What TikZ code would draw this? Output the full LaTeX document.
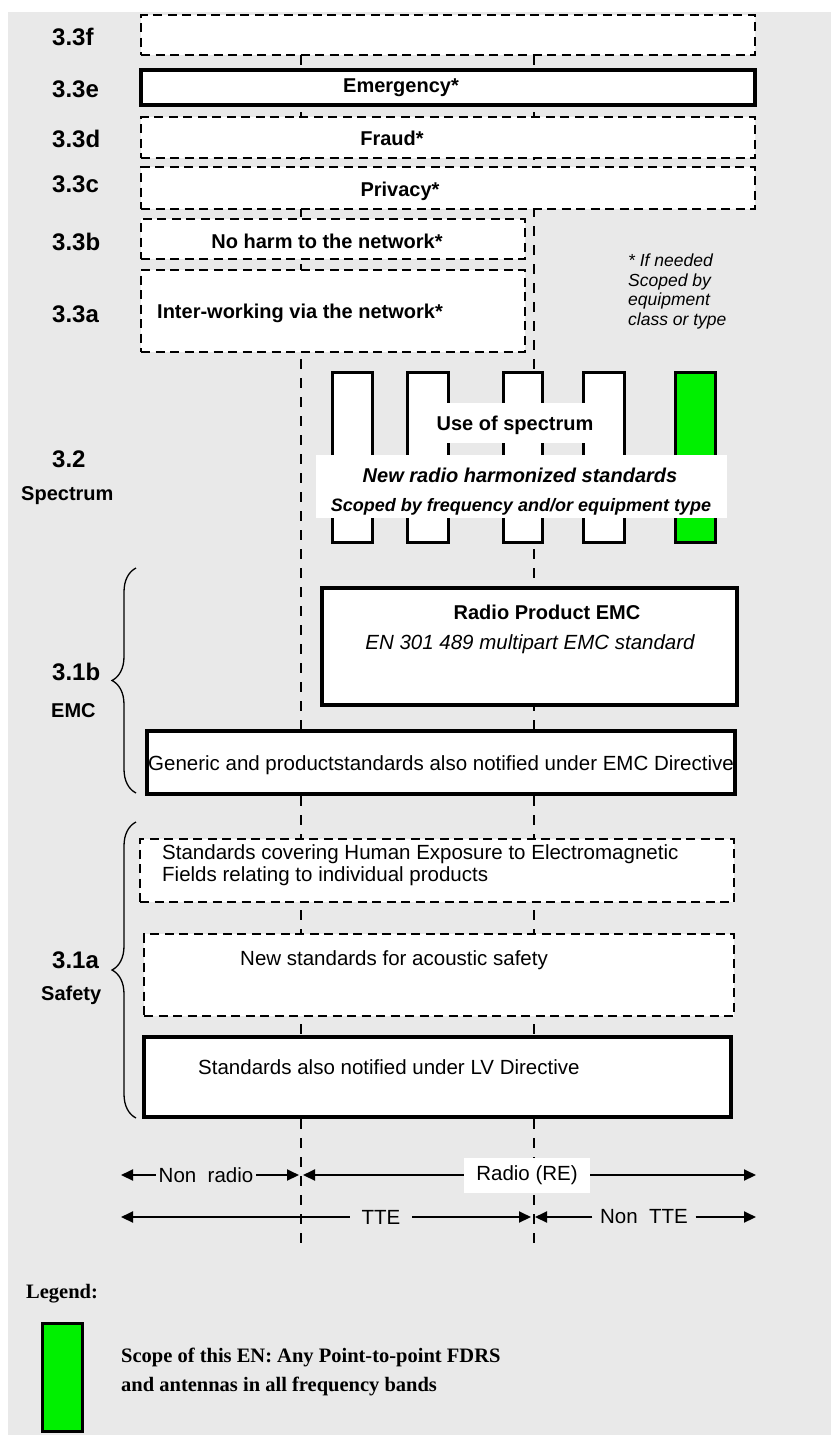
\documentclass[tikz,border=0pt]{standalone}
\usepackage{fontspec}
\setmainfont{Liberation Sans}
\newfontfamily\legendfont{Liberation Serif}
\usetikzlibrary{arrows.meta,decorations.pathreplacing}
\definecolor{panel}{HTML}{E9E9E9}
\definecolor{scopegreen}{HTML}{00F000}

\begin{document}
\begin{tikzpicture}[x=1pt,y=-1pt,
    dash_box/.style={draw,fill=white,line width=2.9pt,dash pattern=on 9pt off 5.5pt,inner sep=0pt},
    solid_box/.style={draw,fill=white,line width=3.2pt,inner sep=0pt},
    band_box/.style={draw,fill=white,line width=3pt,minimum height=170pt,inner sep=0pt},
    guide_line/.style={line width=2.6pt,dash pattern=on 10pt off 9pt},
    brace_line/.style={line width=1.3pt,decorate,decoration={brace,amplitude=24pt}},
    sec_label/.style={anchor=base west,inner sep=0pt,font=\fontsize{24}{28}\selectfont\bfseries},
    sub_label/.style={anchor=base west,inner sep=0pt,font=\fontsize{20}{24}\selectfont\bfseries},
    box_text/.style={anchor=base,inner sep=0pt,font=\fontsize{20}{24}\selectfont\bfseries},
    plain_text/.style={inner sep=0pt,font=\fontsize{20.5}{22}\selectfont},
    dim_arrow/.style={line width=2pt,-{Triangle[length=12pt,width=11pt]}},
    dim_text/.style={fill=panel,inner ysep=1pt,font=\fontsize{20.5}{24}\selectfont}]

    \useasboundingbox (0,0) rectangle (831,1435);
    \fill[white] (0,0) rectangle (831,1435);
    \fill[panel] (8,12) rectangle (831,1435);

    % TTE / radio borders
    \coordinate (g1_top) at (301,55);
    \coordinate (g1_bot) at (301,1250);
    \coordinate (g2_top) at (534,55);
    \coordinate (g2_bot) at (534,1250);
    \draw[guide_line] (g1_top) -- (g1_bot);
    \draw[guide_line] (g2_top) -- (g2_bot);

    % 3.3
    \node[dash_box,minimum width=614pt,minimum height=40pt] (s33f) at (448,35) {};
    \node[solid_box,minimum width=614pt,minimum height=35pt] (s33e) at (448,87.5) {};
    \node[dash_box,minimum width=614pt,minimum height=41pt] (s33d) at (448,137.5) {};
    \node[dash_box,minimum width=614pt,minimum height=42pt] (s33c) at (448,188) {};
    \node[dash_box,minimum width=384pt,minimum height=40pt] (s33b) at (333,239) {};
    \node[dash_box,minimum width=384pt,minimum height=82pt] (s33a) at (333,311) {};
    \node[box_text] (emerg) at (401,92) {Emergency*};
    \node[box_text] (fraud) at (392,145) {Fraud*};
    \node[box_text] (privacy) at (400,196) {Privacy*};
    \node[box_text] (noharm) at (327,248) {No harm to the network*};
    \node[box_text] (interwork) at (300,318) {Inter-working via the network*};
    \node[anchor=north west,inner sep=0pt,align=left,font=\fontsize{17.5}{19.5}\selectfont\itshape] (note) at (628,254) {* If needed\\Scoped by\\equipment\\class or type};

    \node[sec_label] (l33f) at (52,45) {3.3f};
    \node[sec_label] (l33e) at (52,97) {3.3e};
    \node[sec_label] (l33d) at (52,147) {3.3d};
    \node[sec_label] (l33c) at (52,192) {3.3c};
    \node[sec_label] (l33b) at (52,250) {3.3b};
    \node[sec_label] (l33a) at (52,322) {3.3a};

    % 3.2 spectrum
    \node[band_box,minimum width=40pt] (bar1) at (352,457) {};
    \node[band_box,minimum width=41pt] (bar2) at (427.5,457) {};
    \node[band_box,minimum width=39pt] (bar3) at (522.5,457) {};
    \node[band_box,minimum width=41pt] (bar4) at (603.5,457) {};
    \node[band_box,fill=scopegreen,minimum width=40pt] (bar5) at (695,457) {};
    \node[fill=white,minimum width=210pt,minimum height=40pt,inner sep=0pt] (usebox) at (515,423) {};
    \node[box_text] (usetxt) at (515,430) {Use of spectrum};
    \node[fill=white,minimum width=411pt,minimum height=63pt,inner sep=0pt] (newbox) at (521.5,486.5) {};
    \node[box_text,font=\fontsize{20}{24}\selectfont\bfseries\itshape] (newtxt) at (520,482) {New radio harmonized standards};
    \node[box_text,font=\fontsize{18}{20}\selectfont\bfseries\itshape] (scopetxt) at (521,511) {Scoped by frequency and/or equipment type};
    \node[sec_label] (l32) at (52,467) {3.2};
    \node[sub_label] (lspec) at (21,500) {Spectrum};

    % 3.1b EMC
    \coordinate (b1_top) at (136,568);
    \coordinate (b1_bot) at (136,793);
    \draw[brace_line] (b1_bot) -- (b1_top);
    \node[solid_box,minimum width=415pt,minimum height=117pt] (rpemc) at (529.5,646.5) {};
    \node[box_text] (rpemctxt) at (547,619) {Radio Product EMC};
    \node[plain_text,anchor=base,font=\fontsize{20.5}{22}\selectfont\itshape] (en301) at (530,649) {EN 301 489 multipart EMC standard};
    \node[solid_box,minimum width=588pt,minimum height=63pt] (generic) at (441,762.5) {};
    \node[plain_text,anchor=base] (generictxt) at (441,770) {Generic and productstandards also notified under EMC Directive};
    \node[sec_label] (l31b) at (52,680) {3.1b};
    \node[sub_label] (lemc) at (51,717) {EMC};

    % 3.1a safety
    \coordinate (b2_top) at (136,822);
    \coordinate (b2_bot) at (136,1118);
    \draw[brace_line] (b2_bot) -- (b2_top);
    \node[dash_box,minimum width=594pt,minimum height=63pt] (humexp) at (437,870.5) {};
    \node[plain_text,anchor=north west,align=left] (humtxt) at (162,844) {Standards covering Human Exposure to Electromagnetic\\Fields relating to individual products};
    \node[dash_box,minimum width=590pt,minimum height=82pt] (acoustic) at (439,975) {};
    \node[plain_text,anchor=base west] (acoustictxt) at (240,965) {New standards for acoustic safety};
    \node[solid_box,minimum width=587pt,minimum height=80pt] (lvd) at (437.5,1077) {};
    \node[plain_text,anchor=base west] (lvtxt) at (198,1074) {Standards also notified under LV Directive};
    \node[sec_label] (l31a) at (52,968) {3.1a};
    \node[sub_label] (lsafety) at (41,1000) {Safety};

    % scope arrows
    \node[dim_text,inner xsep=3pt] (nonradio) at (206,1175) {Non\ \ radio};
    \coordinate (nr_w) at (121,1175);
    \coordinate (nr_e) at (299,1175);
    \draw[dim_arrow] (nonradio) -- (nr_w);
    \draw[dim_arrow] (nonradio) -- (nr_e);
    \node[dim_text,fill=white,minimum width=126pt,minimum height=35pt] (radio) at (527,1175) {Radio (RE)};
    \coordinate (re_w) at (303,1175);
    \coordinate (re_e) at (756,1175);
    \draw[dim_arrow] (radio) -- (re_w);
    \draw[dim_arrow] (radio) -- (re_e);
    \node[dim_text,inner xsep=11.5pt] (tte) at (381,1217) {TTE};
    \coordinate (tte_w) at (121,1217);
    \coordinate (tte_e) at (531,1217);
    \draw[dim_arrow] (tte) -- (tte_w);
    \draw[dim_arrow] (tte) -- (tte_e);
    \node[dim_text,inner xsep=7.5pt] (nontte) at (644,1217) {Non\ \ TTE};
    \coordinate (ntte_w) at (535,1217);
    \coordinate (ntte_e) at (756,1217);
    \draw[dim_arrow] (nontte) -- (ntte_w);
    \draw[dim_arrow] (nontte) -- (ntte_e);

    % legend
    \node[anchor=base west,inner sep=0pt,font=\legendfont\fontsize{20.5}{24}\selectfont\bfseries] (legend) at (26,1298) {Legend:};
    \node[draw,fill=scopegreen,line width=3pt,minimum width=40pt,minimum height=108pt,inner sep=0pt] (legbar) at (62,1377) {};
    \node[anchor=north west,align=left,inner sep=0pt,font=\legendfont\fontsize{20.5}{29}\selectfont\bfseries] (legtxt) at (121,1348) {Scope of this EN: Any Point-to-point FDRS\\and antennas in all frequency bands};
\end{tikzpicture}
\end{document}
